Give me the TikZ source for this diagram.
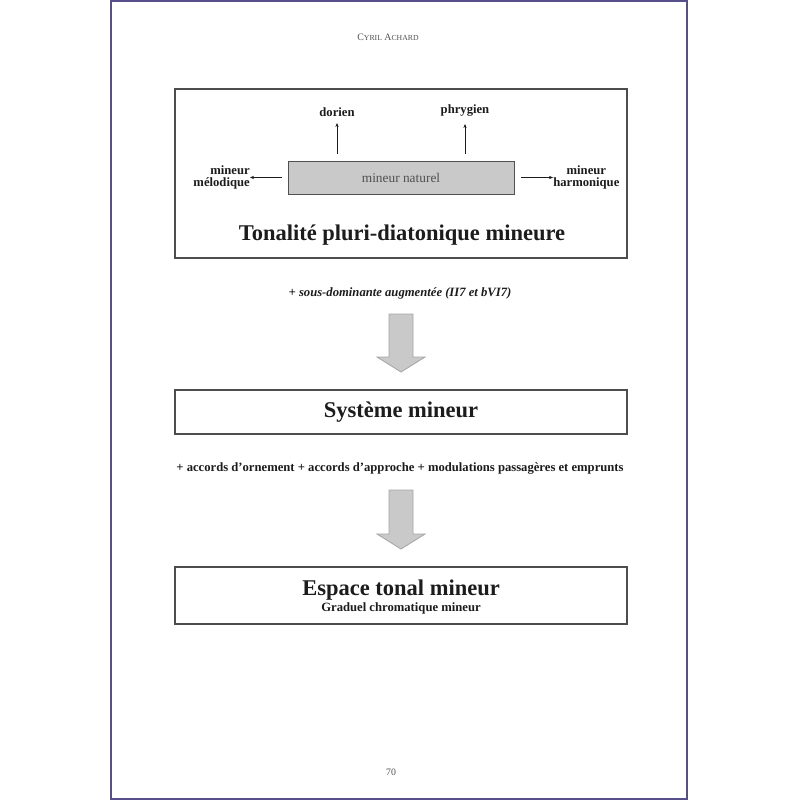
\documentclass[tikz,border=0pt]{standalone}
\usepackage{fontspec}
\setmainfont{Liberation Serif}
\usetikzlibrary{arrows.meta}
\definecolor{tonPage}{HTML}{574F8C}
\definecolor{tonFrame}{HTML}{4D4D4D}
\definecolor{tonFill}{HTML}{C9C9C9}
\definecolor{tonEdge}{HTML}{A6A6A6}
\definecolor{tonInk}{HTML}{1C1C1C}
\definecolor{tonSoft}{HTML}{505050}
\tikzset{
  ton frame/.style={draw=tonFrame, line width=0.9pt, minimum width=113mm, inner sep=0pt},
  ton core/.style={draw=tonSoft, fill=tonFill, line width=0.6pt, minimum width=56.5mm, minimum height=8.25mm, inner sep=0pt, font=\fontsize{9.5}{11}\selectfont, text=tonSoft},
  ton arrow/.style={draw=tonEdge, fill=tonFill, line width=0.6pt},
  ton link/.style={draw=tonInk, line width=0.4pt, -{Stealth[length=1mm,width=0.8mm]}},
  ton head/.style={font=\fontsize{16}{19}\selectfont\bfseries, text=tonInk, inner sep=0pt},
  ton mode/.style={font=\fontsize{9}{8.6}\selectfont\bfseries, text=tonInk, inner sep=0pt},
  ton step/.style={font=\fontsize{9}{11}\selectfont\bfseries, text=tonInk, inner sep=0pt},
  ton running/.style={font=\fontsize{7}{8}\selectfont, text=tonSoft, inner sep=0pt},
}

\begin{document}
\begin{tikzpicture}[x=0.025cm, y=-0.025cm]
  \useasboundingbox (0,0) rectangle (800,800);
  \fill[white] (0,0) rectangle (800,800);
  % Page edge
  \draw[tonPage, line width=1.1pt] (111,0.8) rectangle (687,799.2);
  \node[ton running, anchor=base] (author) at (388,41) {C{\fontsize{5.5}{6}\selectfont YRIL} A{\fontsize{5.5}{6}\selectfont CHARD}};
  \node[ton running, anchor=base] (folio) at (391,775) {70};

  % First frame
  \node[ton frame, minimum height=42.25mm] (tonal) at (401,173.5) {};
  \node[ton core] (nat) at (401,177.5) {mineur naturel};
  \node[ton mode, anchor=base] (dor) at (337,117) {dorien};
  \node[ton mode, anchor=base] (phr) at (465,114) {phrygien};
  \node[ton mode, anchor=east, align=right] (mel) at (250,177.5) {mineur\\mélodique};
  \node[ton mode, anchor=west, align=center] (har) at (553,177.5) {mineur\\harmonique};
  \draw[ton link, shorten >=1.5mm] ([yshift=1.75mm]dor |- nat.north) -- (dor.base);
  \draw[ton link, shorten >=2.5mm] ([yshift=1.75mm]phr |- nat.north) -- (phr.base);
  \draw[ton link] ([xshift=-1.5mm]nat.west) -- (mel.east);
  \draw[ton link] ([xshift=1.75mm]nat.east) -- (har.west);
  \node[ton head, anchor=base] (pluri) at (402,240) {Tonalité pluri-diatonique mineure};

  \node[ton step, anchor=base] (ajout) at (400,296) {\itshape + sous-dominante augmentée (II7 et bVI7)};

  % Second and third frames
  \node[ton frame, minimum height=11mm] (systeme) at (401,412) {};
  \node[ton head, anchor=base] (systxt) at (401,417) {Système mineur};
  \node[ton step, anchor=base] (ajouts) at (400,471) {+ accords d’ornement + accords d’approche + modulations passagères et emprunts};
  \node[ton frame, minimum height=14.25mm] (espace) at (401,595.5) {};
  \node[ton head, anchor=base] (esptxt) at (401,595) {Espace tonal mineur};
  \node[ton step, anchor=base] (graduel) at (401,611) {Graduel chromatique mineur};

  % Block arrows
  \foreach \ytop/\hd in {314/58, 490/59}
    \filldraw[ton arrow] (389,\ytop) -- (413,\ytop) -- (413,\ytop+\hd-15) -- (425,\ytop+\hd-15)
      -- (401,\ytop+\hd) -- (377,\ytop+\hd-15) -- (389,\ytop+\hd-15) -- cycle;
\end{tikzpicture}
\end{document}
